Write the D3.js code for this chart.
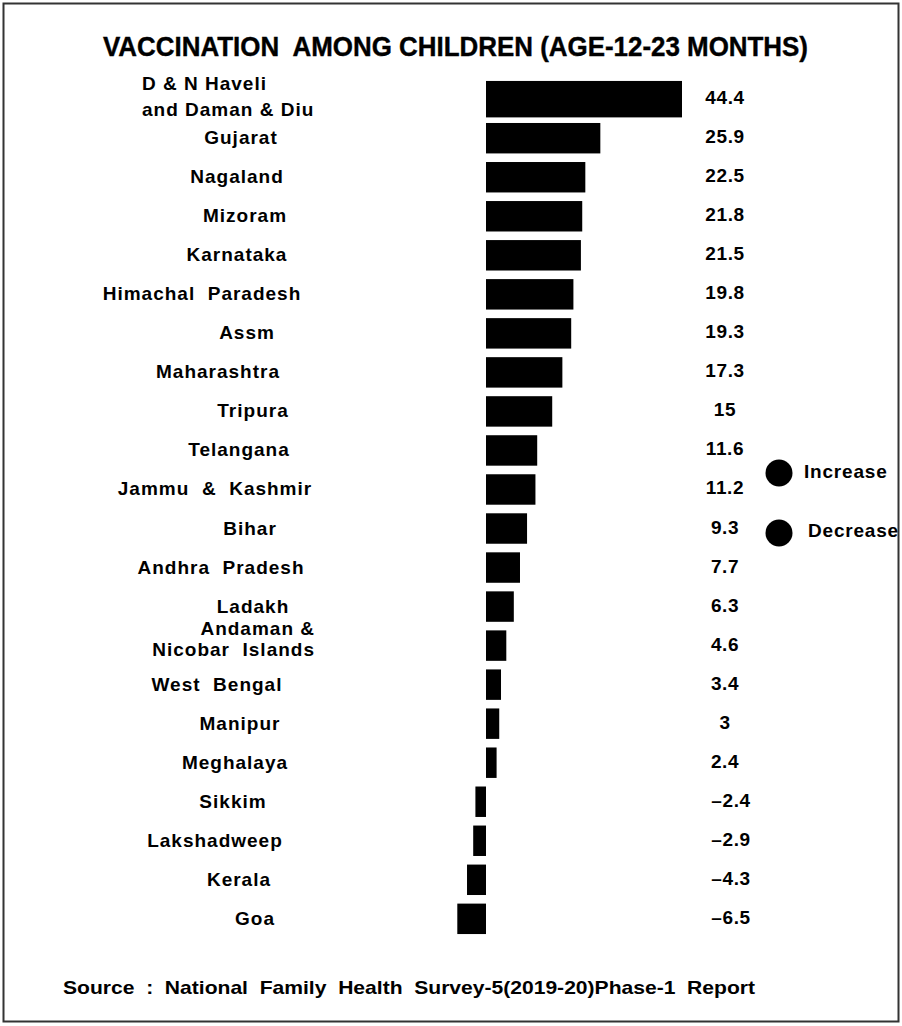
<!DOCTYPE html>
<html><head><meta charset="utf-8">
<script src="https://cdn.jsdelivr.net/npm/d3@7"></script>
<style>
html,body{margin:0;padding:0;background:#fff;}
text{font-family:"Liberation Sans",Arial,sans-serif;font-weight:bold;fill:#000;}
</style></head>
<body>
<script>
const states = ["D & N Haveli|and Daman & Diu","Gujarat","Nagaland","Mizoram","Karnataka","Himachal  Paradesh","Assm","Maharashtra","Tripura","Telangana","Jammu  &  Kashmir","Bihar","Andhra  Pradesh","Ladakh","Andaman &|Nicobar  Islands","West  Bengal","Manipur","Meghalaya","Sikkim","Lakshadweep","Kerala","Goa"];
const values = [44.4,25.9,22.5,21.8,21.5,19.8,19.3,17.3,15,11.6,11.2,9.3,7.7,6.3,4.6,3.4,3,2.4,-2.4,-2.9,-4.3,-6.5];
const valueLabels = ["44.4","25.9","22.5","21.8","21.5","19.8","19.3","17.3","15","11.6","11.2","9.3","7.7","6.3","4.6","3.4","3","2.4","\u20132.4","\u20132.9","\u20134.3","\u20136.5"];
const legendItems = ["Increase","Decrease"];
const titleText = "VACCINATION  AMONG CHILDREN (AGE-12-23 MONTHS)";
const sourceText = "Source  :  National  Family  Health  Survey-5(2019-20)Phase-1  Report";

// layout: horizontal anchor of each category label (as placed in the original)
const labelX = [142,241,237,245,237,202,247,218,253,239,215,250,221,253,315,217,240,235,233,215,239,255];
const labelAnchor = states.map((s,i) => i===0 ? "start" : (s.includes("|") ? "end" : "middle"));

const W = 902, H = 1026;
const svg = d3.select("body").append("svg").attr("width", W).attr("height", H);

svg.append("rect").attr("x", 3.5).attr("y", 3.5).attr("width", 895).attr("height", 1018)
  .attr("fill", "none").attr("stroke", "#333").attr("stroke-width", 2);

svg.append("text").attr("x", 103).attr("y", 56)
  .attr("font-size", 27).attr("textLength", 705).attr("lengthAdjust","spacingAndGlyphs")
  .attr("stroke","#000").attr("stroke-width",0.4)
  .style("white-space","pre").text(titleText);

const x = d3.scaleLinear().domain([0, 44.4]).range([486, 682]);
const y = d3.scaleBand().domain(d3.range(states.length)).range([82, 936]).paddingInner(0.22).paddingOuter(0.05);

svg.append("g").selectAll("rect").data(values).join("rect")
  .attr("x", d => Math.min(x(0), x(d)))
  .attr("width", d => Math.abs(x(d) - x(0)))
  .attr("y", (d,i) => y(i) - (i===0 ? 3 : 0))
  .attr("height", (d,i) => y.bandwidth() + (i===0 ? 6 : 0))
  .attr("fill", "#000");

const lab = svg.append("g");
states.forEach((s,i) => {
  const lines = s.split("|");
  const cy = y(i) + y.bandwidth()/2;
  const t = lab.append("text").attr("font-size", 19).attr("text-anchor", labelAnchor[i])
    .style("white-space","pre").attr("letter-spacing", 1.0);
  if (lines.length === 1) {
    t.append("tspan").attr("x", labelX[i]).attr("y", cy + 6).text(lines[0]);
  } else {
    const dys = i === 0 ? [-9, 17] : [-11, 10];
    lines.forEach((ln,k) => t.append("tspan").attr("x", labelX[i]).attr("y", cy + dys[k]).text(ln));
  }
});

svg.append("g").selectAll("text").data(valueLabels).join("text")
  .attr("x", (d,i) => values[i] < 0 ? 731 : 725).attr("y", (d,i) => y(i) + y.bandwidth()/2 + 5)
  .attr("text-anchor","middle").attr("font-size", 19).attr("letter-spacing", 0.6).text(d => d);

const leg = svg.append("g");
legendItems.forEach((l,i) => {
  leg.append("circle").attr("cx", 779).attr("cy", 473 + i*60).attr("r", 13.5).attr("fill","#000");
  leg.append("text").attr("x", 804 + i*4).attr("y", 478 + i*59).attr("font-size", 19).attr("letter-spacing", 0.8).text(l);
});

svg.append("text").attr("x", 63).attr("y", 994)
  .attr("font-size", 19).attr("textLength", 692).attr("lengthAdjust","spacingAndGlyphs")
  .style("white-space","pre").text(sourceText);
</script>
</body></html>
